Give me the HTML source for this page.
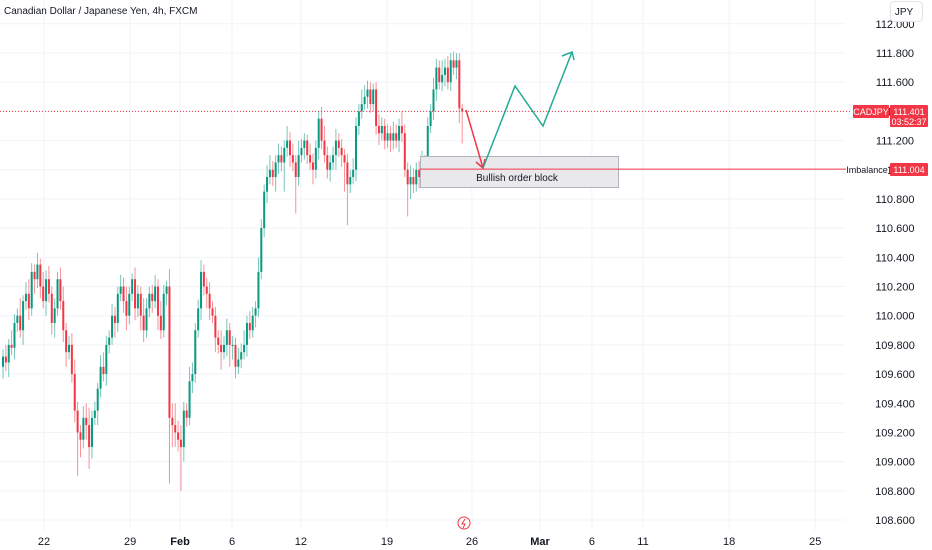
<!DOCTYPE html>
<html><head><meta charset="utf-8"><style>
body{margin:0;background:#fff;width:932px;height:550px;overflow:hidden;font-family:"Liberation Sans",sans-serif}
svg{position:absolute;left:0;top:0}
</style></head><body>
<svg id="chart" width="932" height="550">
<g id="grid"></g>
<g id="marks"></g>
<g id="overlay"></g>
<g id="axes"></g>
</svg>
<script>
const closes=[109.72,109.68,109.80,109.78,109.95,110.00,109.90,110.10,110.15,110.05,
110.30,110.25,110.35,110.20,110.10,110.25,110.15,109.95,110.05,110.25,
110.10,109.90,109.75,109.80,109.60,109.35,109.20,109.15,109.30,109.25,
109.10,109.30,109.35,109.50,109.65,109.60,109.80,109.85,110.00,109.95,
110.15,110.20,110.10,110.00,110.15,110.25,110.05,110.15,110.00,109.90,
110.05,110.15,110.10,110.20,110.00,109.90,110.15,110.20,109.30,109.25,
109.20,109.15,109.10,109.35,109.30,109.55,109.60,109.90,110.05,110.30,
110.20,110.15,110.05,110.00,109.85,109.80,109.75,109.80,109.90,109.80,
109.80,109.65,109.70,109.75,109.80,109.95,109.90,110.00,110.05,110.30,
110.60,110.85,110.95,111.00,110.95,111.05,111.10,111.05,111.15,111.20,
111.10,111.05,110.95,111.10,111.15,111.20,111.10,111.05,111.00,111.15,
111.35,111.20,111.10,111.00,111.05,111.10,111.20,111.15,111.10,111.05,
110.90,110.95,111.00,111.30,111.40,111.45,111.50,111.55,111.45,111.55,
111.30,111.25,111.30,111.20,111.25,111.20,111.25,111.20,111.30,111.25,
111.00,110.90,110.95,110.90,111.00,110.95,111.05,111.00,111.30,111.40,
111.55,111.70,111.60,111.65,111.70,111.60,111.75,111.70,111.75,111.42,111.40];
const wickUp=[0.05,0.08,0.04,0.10,0.06,0.05,0.12,0.04,0.08,0.10,0.06,0.05,0.08,0.04,0.10,0.06,0.09,0.05,0.07,0.05,
0.08,0.10,0.05,0.06,0.08,0.10,0.06,0.05,0.08,0.10,0.12,0.05,0.06,0.04,0.08,0.10,0.06,0.05,0.08,0.06,
0.05,0.08,0.06,0.10,0.05,0.04,0.08,0.06,0.05,0.12,0.07,0.05,0.06,0.08,0.05,0.10,0.06,0.04,0.12,0.10,
0.15,0.08,0.10,0.06,0.05,0.10,0.08,0.05,0.06,0.08,0.05,0.06,0.08,0.05,0.06,0.05,0.10,0.06,0.08,0.05,
0.06,0.05,0.08,0.06,0.10,0.05,0.08,0.06,0.05,0.10,0.06,0.05,0.08,0.10,0.06,0.05,0.08,0.06,0.05,0.10,
0.06,0.08,0.05,0.10,0.06,0.05,0.04,0.08,0.06,0.05,0.05,0.08,0.10,0.06,0.05,0.06,0.08,0.05,0.06,0.04,
0.06,0.05,0.08,0.06,0.05,0.10,0.08,0.06,0.05,0.04,0.05,0.08,0.06,0.05,0.06,0.05,0.08,0.06,0.05,0.10,
0.06,0.05,0.08,0.06,0.05,0.06,0.08,0.05,0.06,0.05,0.08,0.06,0.05,0.10,0.06,0.08,0.05,0.06,0.05,0.05,0.03];
const wickDown=[0.08,0.06,0.10,0.05,0.08,0.06,0.05,0.10,0.06,0.08,0.05,0.10,0.06,0.08,0.05,0.10,0.06,0.08,0.10,0.05,
0.06,0.08,0.10,0.05,0.06,0.08,0.30,0.12,0.06,0.10,0.15,0.08,0.05,0.10,0.06,0.05,0.08,0.06,0.05,0.10,
0.06,0.05,0.08,0.10,0.06,0.05,0.08,0.06,0.10,0.08,0.05,0.06,0.08,0.05,0.10,0.06,0.05,0.08,0.45,0.15,
0.10,0.08,0.30,0.10,0.06,0.05,0.08,0.06,0.05,0.08,0.06,0.10,0.08,0.05,0.10,0.06,0.12,0.05,0.08,0.15,
0.10,0.08,0.05,0.06,0.05,0.08,0.06,0.05,0.08,0.06,0.05,0.06,0.08,0.05,0.06,0.10,0.08,0.06,0.20,0.06,
0.08,0.06,0.25,0.06,0.05,0.08,0.06,0.05,0.10,0.06,0.08,0.06,0.05,0.06,0.08,0.05,0.10,0.06,0.08,0.20,
0.28,0.06,0.05,0.08,0.06,0.05,0.04,0.08,0.06,0.05,0.06,0.08,0.05,0.06,0.05,0.08,0.06,0.05,0.08,0.06,
0.05,0.22,0.10,0.06,0.05,0.08,0.06,0.10,0.06,0.05,0.06,0.08,0.05,0.06,0.08,0.05,0.06,0.05,0.08,0.10,0.22];
const priceTicks=["112.000","111.800","111.600","111.400","111.200","111.000","110.800","110.600","110.400","110.200","110.000","109.800","109.600","109.400","109.200","109.000","108.800","108.600"];
const dateLabels=["22","29","Feb","6","12","19","26","Mar","6","11","18","25"];
const dateBarIndex=[14.3,44.3,61.7,79.8,103.8,133.8,163.4,187.1,205.2,223,253,283];
const firstOpen=109.65;

const NS="http://www.w3.org/2000/svg";
function yOf(p){return 53+(111.8-p)*145.94;}
function xOf(i){return 3+i*2.87;}
function mk(tag,attrs,parent){const e=document.createElementNS(NS,tag);for(const k in attrs)e.setAttribute(k,attrs[k]);parent.appendChild(e);return e;}
const grid=document.getElementById('grid'),marks=document.getElementById('marks'),ov=document.getElementById('overlay'),axes=document.getElementById('axes');

priceTicks.forEach(t=>{const y=yOf(parseFloat(t));
 const l=mk('line',{x1:0,x2:845,y1:y,y2:y,stroke:'#f0f3fa'},grid);
 
 const tx=mk('text',{x:895,y:y+4,'font-size':11,fill:'#131722','text-anchor':'middle'},axes);
 tx.textContent=t;});
dateLabels.forEach((d,k)=>{const x=xOf(dateBarIndex[k]);
 const l=mk('line',{x1:x,x2:x,y1:0,y2:530,stroke:'#f0f3fa'},grid);
 
 const bold=(d==='Feb'||d==='Mar');
 const tx=mk('text',{x:x,y:545,'font-size':11,fill:'#131722','text-anchor':'middle','font-weight':bold?'bold':'normal'},axes);
 tx.textContent=d;});

closes.forEach((c,i)=>{const o=i===0?firstOpen:closes[i-1];
 const up=c>=o,col=up?'#089981':'#f23645';
 const hi=Math.max(o,c)+wickUp[i],lo=Math.min(o,c)-wickDown[i];const x=xOf(i);
 const g=mk('g',{},marks);
 mk('line',{x1:x,x2:x,y1:yOf(hi),y2:yOf(lo),stroke:col,'stroke-width':1,opacity:0.55},g);
 const yt=yOf(Math.max(o,c)),yb=yOf(Math.min(o,c));
 mk('rect',{x:x-1,y:yt,width:2,height:Math.max(1,yb-yt),fill:col},g);});

const lp=closes[closes.length-1],ly=yOf(lp);
let e=mk('line',{x1:0,x2:850,y1:ly,y2:ly,stroke:'#f23645','stroke-dasharray':'1,2','stroke-width':1},ov);

const ob=mk('g',{},ov);
mk('rect',{x:420.5,y:156.5,width:198,height:31,fill:'#e9e9ec',stroke:'#b2b5be'},ob);
const obt=mk('text',{x:517,y:181,'font-size':10,fill:'#131722','text-anchor':'middle'},ob);obt.textContent='Bullish order block';
const iy=yOf(111.004);
e=mk('line',{x1:420,x2:846,y1:iy,y2:iy,stroke:'#f23645'},ov);
e=mk('polyline',{points:'466,110 483,168',fill:'none',stroke:'#f23645','stroke-width':1.5},ov);
mk('polyline',{points:'476,162 483,168 485,159',fill:'none',stroke:'#f23645','stroke-width':1.5},ov);
e=mk('polyline',{points:'483,168 515,86 543,126 572,52',fill:'none',stroke:'#22ab94','stroke-width':1.5},ov);
mk('polyline',{points:'562,56 572,52 574,60',fill:'none',stroke:'#22ab94','stroke-width':1.5},ov);
function box(x,y,w,h,fill,name){const r=mk('rect',{x:x,y:y,width:w,height:h,fill:fill,rx:1},axes);}
function txt(x,y,s,fill,name,anchor,size){const t=mk('text',{x:x,y:y,'font-size':size||9,fill:fill,'text-anchor':anchor||'middle'},axes);t.textContent=s;}
box(853,105,36,13,'#f23645','symbol-label');txt(871,115,'CADJPY','#fff','symbol-label-text');
box(890,105,38,22,'#f23645','last-price-label');txt(909,115,'111.401','#fff','last-price-text');txt(909,125,'03:52:37','#fff','countdown-text');
box(846,163,42,13,'#fff','imbalance-label');txt(867,173,'Imbalance','#131722','imbalance-label-text');
box(890,163,38,13,'#f23645','imbalance-price-label');txt(909,173,'111.004','#fff','imbalance-price-text');
txt(4,14,'Canadian Dollar / Japanese Yen, 4h, FXCM','#131722','chart-title','start',10);
const jb=mk('g',{},axes);
mk('rect',{x:890.5,y:1.5,width:32,height:20,rx:4,fill:'#fff',stroke:'#e0e3eb'},jb);
const jt=mk('text',{x:904,y:15,'font-size':10,fill:'#131722','text-anchor':'middle'},jb);jt.textContent='JPY';
const li=mk('g',{},axes);
mk('circle',{cx:464,cy:523,r:6,fill:'#fff',stroke:'#f23645','stroke-width':1},li);
mk('path',{d:'M465,519 L462,524 L465,524 L463,528',fill:'none',stroke:'#f23645','stroke-width':1},li);
</script>
</body></html>
